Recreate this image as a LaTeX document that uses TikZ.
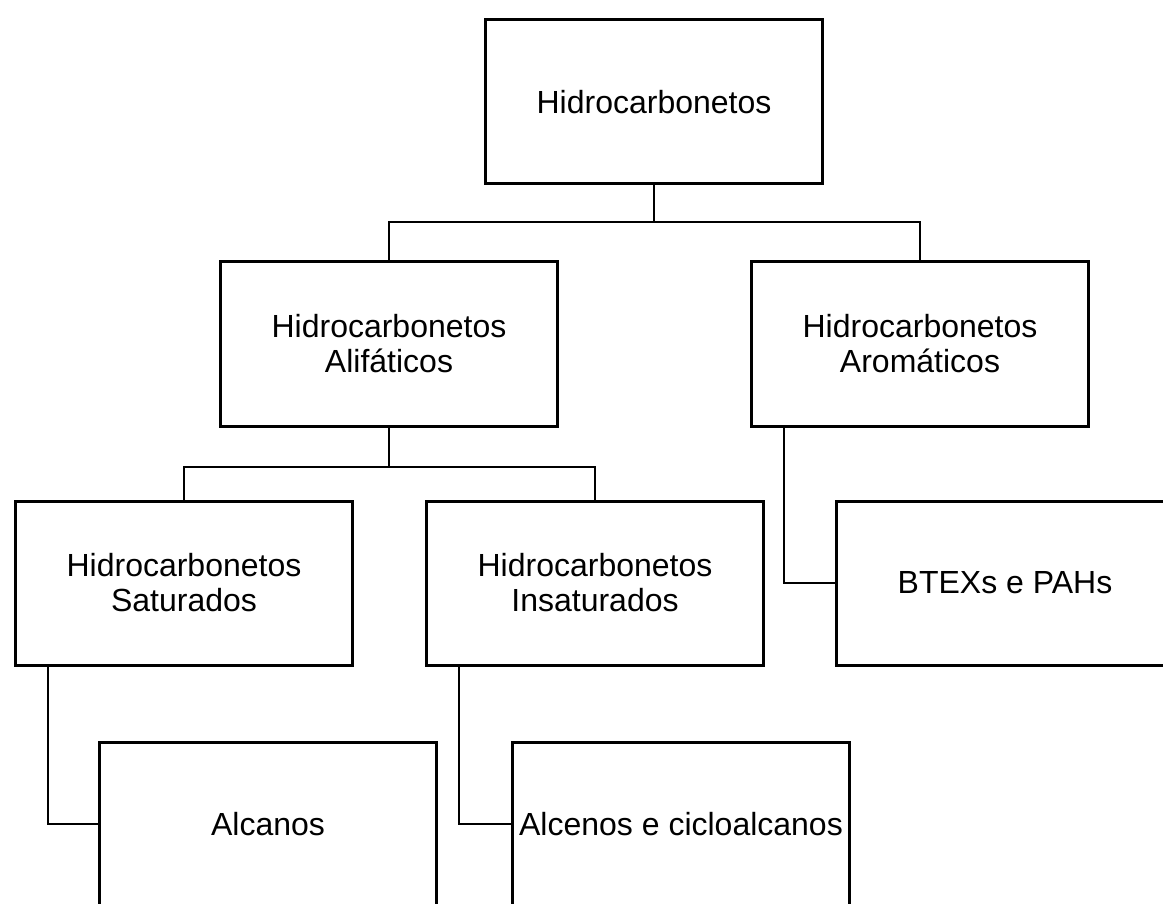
\documentclass[tikz,border=0pt]{standalone}
\usepackage{fontspec}
\setmainfont{Liberation Sans}
\usepackage{tikz}

\begin{document}
\begin{tikzpicture}
	[x=1pt,y=1pt,font=\fontsize{32}{35}\selectfont,
		class node/.style={rectangle,draw,line width=3pt,minimum width=337pt,minimum height=164pt,align=center,inner sep=0pt},
		link/.style={line width=2pt}]

    \useasboundingbox (0,0) rectangle (1163,-904);

    \node[class node] (HC) at (654,-102) {Hidrocarbonetos};
    \node[class node] (ALI) at (389,-344) {Hidrocarbonetos\\Alifáticos};
    \node[class node] (ARO) at (920,-344) {Hidrocarbonetos\\Aromáticos};
    \node[class node] (SAT) at (184,-583) {Hidrocarbonetos\\Saturados};
    \node[class node] (INS) at (595,-583) {Hidrocarbonetos\\Insaturados};
    \node[class node] (BTEX) at (1005,-583) {BTEXs e PAHs};
    \node[class node] (ALC) at (268,-824) {Alcanos};
    \node[class node] (ALCE) at (681,-824) {Alcenos e cicloalcanos};

	% \draw[link] (HC.south) -- (ALI.north);

	\draw[link] (HC.south) -- ++(0,-37) -| (ALI.north);
	\draw[link] (HC.south) -- ++(0,-37) -| (ARO.north);
	\draw[link] (ALI.south) -- ++(0,-39) -| (SAT.north);
	\draw[link] (ALI.south) -- ++(0,-39) -| (INS.north);
	\draw[link] (ARO.south west) ++(34,0) |- (BTEX.west);
	\draw[link] (SAT.south west) ++(34,0) |- (ALC.west);
	\draw[link] (INS.south west) ++(34,0) |- (ALCE.west);

\end{tikzpicture}
\end{document}
